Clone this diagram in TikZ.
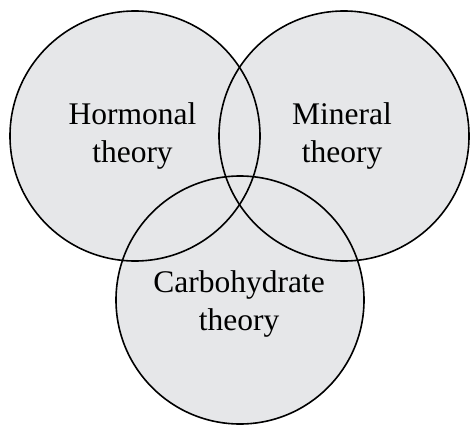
\documentclass[tikz,border=0pt]{standalone}
\usepackage{fontspec}
\setmainfont{Liberation Serif}
\usetikzlibrary{backgrounds}
\definecolor{vennGray}{RGB}{230,231,233}
\tikzset{
  venn/.style   = {draw, circle, line width=1.6pt, minimum size=250pt,
                   inner sep=0pt},
  vlabel/.style = {align=center, inner sep=0pt,
                   font=\fontsize{31.5}{38}\selectfont}
}

\begin{document}
\begin{tikzpicture}[x=1pt,y=-1pt]
\useasboundingbox (0,0) rectangle (470,425);
\node[venn] (hormonal) at (135,136) {};
\node[venn] (mineral)  at (344,136) {};
\node[venn, minimum size=248pt] (carbo) at (240,300) {};
\node[vlabel] (hormonal-txt) at (132.5,135.5) {Hormonal\\theory};
\node[vlabel] (mineral-txt)  at (342,135.5) {Mineral\\theory};
\node[vlabel] (carbo-txt)    at (239,304) {Carbohydrate\\theory};
\begin{pgfonlayer}{background}
\foreach \c in {hormonal,mineral,carbo}
  \fill[vennGray] (\c.center) circle[radius=124pt];
\end{pgfonlayer}
\end{tikzpicture}
\end{document}
